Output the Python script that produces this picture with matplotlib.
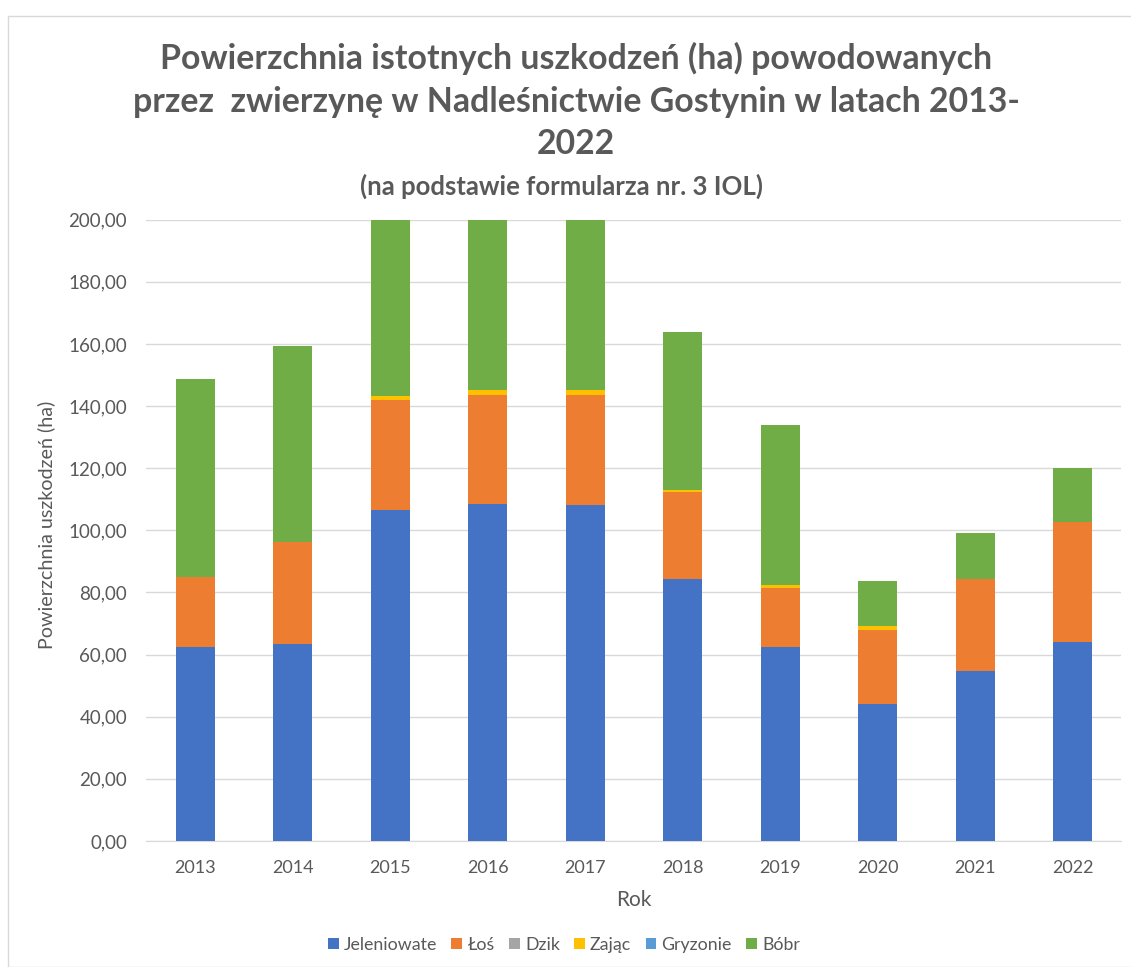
import matplotlib
matplotlib.use('Agg')
from matplotlib import pyplot as pl
from matplotlib.patches import Rectangle
import numpy as np

years = ['2013', '2014', '2015', '2016', '2017', '2018', '2019', '2020', '2021', '2022']
series = ['Jeleniowate', 'Łoś', 'Dzik', 'Zając', 'Gryzonie', 'Bóbr']

jeleniowate = [62.6, 63.4, 106.7, 108.4, 108.0, 84.2, 62.3, 44.0, 54.8, 64.0]
los = [22.3, 32.9, 35.2, 35.2, 35.6, 28.1, 19.0, 23.9, 29.7, 38.7]
dzik = [0, 0, 0, 0, 0, 0, 0, 0, 0, 0]
zajac = [0, 0, 1.2, 1.5, 1.6, 0.6, 1.2, 1.4, 0, 0]
gryzonie = [0, 0, 0, 0, 0, 0, 0, 0, 0, 0]
bobr = [63.8, 62.9, 75.0, 70.0, 72.0, 50.8, 51.4, 14.3, 14.7, 17.3]

colors = ['#4472C4', '#ED7D31', '#A5A5A5', '#FFC000', '#5B9BD5', '#70AD47']

pl.rcParams['font.family'] = ['Lato', 'DejaVu Sans']

fig = pl.figure(figsize=(11.31, 9.67), dpi=100)
ax = fig.add_axes([0.1295, 0.1303, 0.862, 0.6425])

# chart area frame
fig.patches.append(Rectangle((8 / 1131, 0), 1.1, 1 - 16 / 967,
                             transform=fig.transFigure, fill=False,
                             edgecolor='#d9d9d9', linewidth=1))

x = np.arange(len(years))
bottom = np.zeros(len(years))
for name, vals, c in zip(series, [jeleniowate, los, dzik, zajac, gryzonie, bobr], colors):
    ax.bar(x, vals, 0.4, bottom=bottom, color=c, label=name, zorder=3)
    bottom += np.array(vals)

ax.set_ylim(0, 200)
ax.set_xlim(-0.5, len(years) - 0.5)
yt = np.arange(0, 201, 20)
ax.set_yticks(yt)
ax.set_yticklabels([('%.2f' % v).replace('.', ',') for v in yt])
ax.set_xticks(x)
ax.set_xticklabels(years)
ax.grid(axis='y', color='#d9d9d9', linewidth=1, zorder=0)
for s in ['top', 'right', 'left']:
    ax.spines[s].set_visible(False)
ax.spines['bottom'].set_color('#d9d9d9')
ax.tick_params(axis='both', length=0, labelcolor='#595959')
ax.tick_params(axis='y', labelsize=13.5, pad=14)
ax.tick_params(axis='x', labelsize=13, pad=14)

ax.set_xlabel('Rok', fontsize=15, color='#595959', labelpad=10)
ax.set_ylabel('Powierzchnia uszkodzeń (ha)', fontsize=14.2, color='#595959')
ax.yaxis.set_label_coords((55 - 146.5) / 975, (841 - 525) / 621)

fig.text(576 / 1131, 1 - 101 / 967,
         'Powierzchnia istotnych uszkodzeń (ha) powodowanych\nprzez  zwierzynę w Nadleśnictwie Gostynin w latach 2013-\n2022',
         ha='center', va='center', fontsize=24.4, fontweight='bold', color='#595959',
         linespacing=1.4)
fig.text(562 / 1131, 1 - 186 / 967, '(na podstawie formularza nr. 3 IOL)',
         ha='center', va='center', fontsize=18.5, fontweight='bold', color='#595959')

ax.legend(loc='center', bbox_to_anchor=((564 - 146.5) / 975, (841 - 945) / 621), ncol=6,
          frameon=False, fontsize=12.8, handlelength=0.6, handleheight=0.6,
          handletextpad=0.3, columnspacing=0.8, labelcolor='#595959')

fig.savefig('out.png', dpi=100)
